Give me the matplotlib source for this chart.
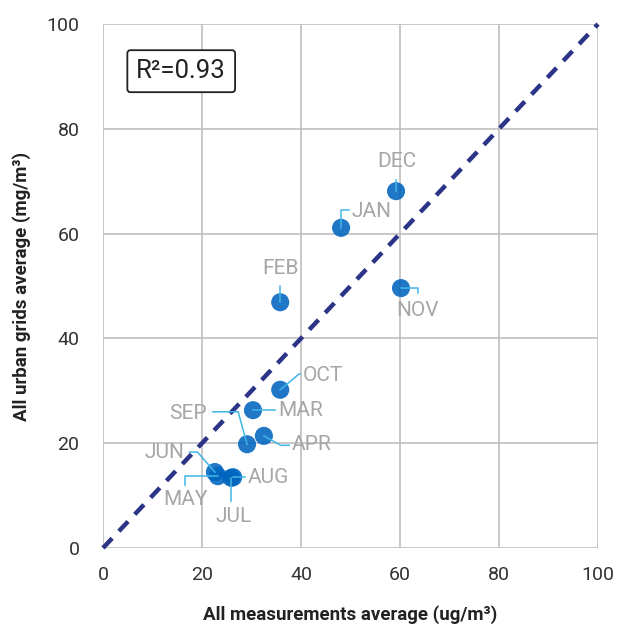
import matplotlib.pyplot as plt
import numpy as np

months = ["DEC", "JAN", "FEB", "NOV", "OCT", "MAR", "SEP", "APR", "JUN", "MAY", "JUL", "AUG"]
meas_avg = [59.2, 48.1, 35.8, 60.2, 35.8, 30.3, 29.1, 32.5, 22.6, 23.2, 25.9, 26.3]
grid_avg = [68.1, 61.1, 46.9, 49.6, 30.2, 26.3, 19.8, 21.4, 14.5, 13.7, 13.4, 13.5]

# label anchor positions (data units) and alignment
label_x = [59.4, 50.2, 35.8, 63.6, 40.4, 35.4, 17.2, 38.2, 12.5, 16.6, 26.3, 29.3]
label_y = [73.7, 64.3, 53.4, 45.4, 33.0, 26.3, 25.6, 19.8, 18.3, 9.2, 6.1, 13.5]
label_ha = ["center", "left", "center", "center", "left", "left", "center", "left",
            "center", "center", "center", "left"]

label_color = "#a6a6a6"
leader_color = "#41b6e6"
point_color = "#0064bf"

plt.rcParams['font.family'] = ['Roboto', 'DejaVu Sans']

fig = plt.figure(figsize=(6.19, 6.29), dpi=100)
ax = fig.add_axes([0.1664, 0.1288, 0.7997, 0.833])

ax.set_xlim(0, 100)
ax.set_ylim(0, 100)
ax.set_xticks(np.arange(0, 101, 20))
ax.set_yticks(np.arange(0, 101, 20))
ax.grid(True, color="#bfbfbf", linewidth=1.2)
ax.set_axisbelow(True)
for s in ax.spines.values():
    s.set_visible(False)
ax.tick_params(length=0, labelsize=14, colors="#333333")
ax.tick_params(axis="x", pad=13)
ax.tick_params(axis="y", pad=17)

# 1:1 line
ax.plot([0, 100], [0, 100], color="#2b3486", linewidth=3.2, linestyle=(0, (3, 2.2)),
        zorder=2, clip_on=False)

ax.scatter(meas_avg, grid_avg, s=170, color=point_color, alpha=0.88, edgecolors="none", zorder=3)

for i, m in enumerate(months):
    ax.text(label_x[i], label_y[i], m, color=label_color, fontsize=15, ha=label_ha[i],
            va="center", zorder=4)

# leader lines (elbows between point and its label)
def leader(xs, ys):
    ax.plot(xs, ys, color=leader_color, linewidth=1.1, zorder=3.5)

d = dict(zip(months, range(len(months))))
def P(m):
    return meas_avg[d[m]], grid_avg[d[m]]

x, y = P("DEC"); leader([x, x], [y, label_y[d["DEC"]] - 3.4])
x, y = P("JAN"); leader([x, x, label_x[d["JAN"]] - 0.6], [y, label_y[d["JAN"]] + 0.3, label_y[d["JAN"]] + 0.3])
x, y = P("FEB"); leader([x, x], [y, label_y[d["FEB"]] - 3.4])
x, y = P("NOV"); leader([x, label_x[d["NOV"]], label_x[d["NOV"]]], [y, y, label_y[d["NOV"]] + 3.2])
x, y = P("OCT"); leader([x, x + 3.8, label_x[d["OCT"]] - 0.6], [y, label_y[d["OCT"]] + 0.2, label_y[d["OCT"]] + 0.2])
x, y = P("MAR"); leader([x, label_x[d["MAR"]] - 0.6], [y, y])
x, y = P("SEP"); leader([x, x - 1.8, label_x[d["SEP"]] + 5.0], [y, label_y[d["SEP"]] + 0.4, label_y[d["SEP"]] + 0.4])
x, y = P("APR"); leader([x, x + 3.4, label_x[d["APR"]] - 0.6], [y, label_y[d["APR"]] - 0.2, label_y[d["APR"]] - 0.2])
x, y = P("JUN"); leader([x, x - 3.5, label_x[d["JUN"]] + 5.0], [y, label_y[d["JUN"]], label_y[d["JUN"]]])
x, y = P("MAY"); leader([x, label_x[d["MAY"]], label_x[d["MAY"]]], [y, y, label_y[d["MAY"]] + 2.8])
x, y = P("JUL"); leader([x, x], [y, label_y[d["JUL"]] + 2.9])
x, y = P("AUG"); leader([x, label_x[d["AUG"]] - 0.6], [y, y])

ax.text(0.158, 0.91, "R²=0.93", transform=ax.transAxes, fontsize=18.5, color="#222222",
        ha="center", va="center",
        bbox=dict(boxstyle="round,pad=0.35,rounding_size=0.12", facecolor="white",
                  edgecolor="#222222", linewidth=1.3))

ax.set_xlabel("All measurements average (ug/m³)", fontsize=13.5, fontweight="bold",
              color="#222222", labelpad=15)
ax.set_ylabel("All urban grids average (mg/m³)", fontsize=13.5, fontweight="bold",
              color="#222222", labelpad=11)

fig.savefig("out.png", dpi=100)
